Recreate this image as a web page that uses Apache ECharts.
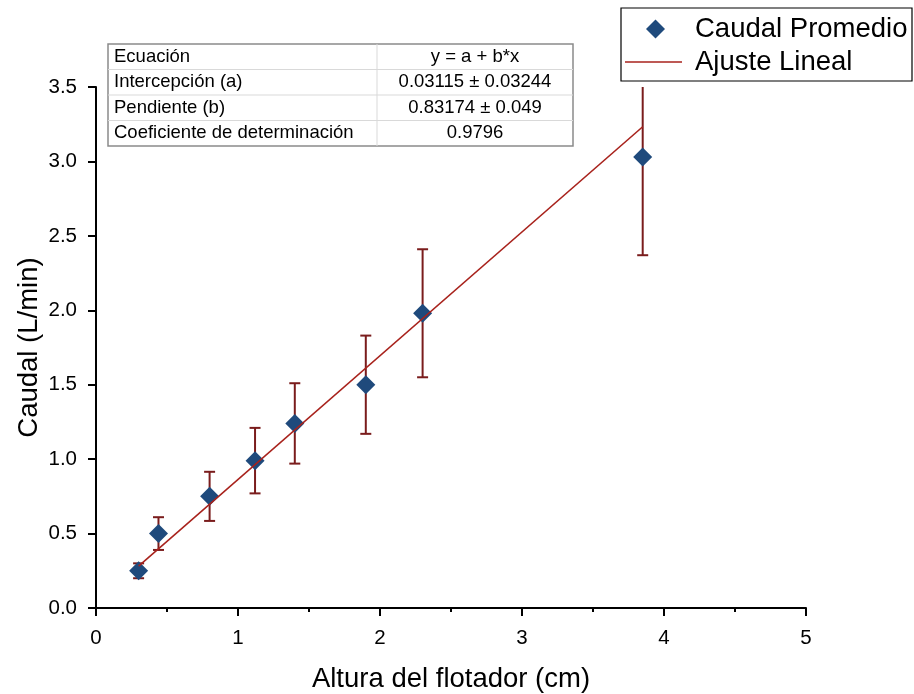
<!DOCTYPE html>
<html>
<head>
<meta charset="utf-8">
<script src="https://cdn.jsdelivr.net/npm/echarts@6/dist/echarts.min.js"></script>
<style>
  html, body { margin: 0; padding: 0; background: #fff; }
  #chart { width: 914px; height: 694px; }
</style>
</head>
<body>
<div id="chart"></div>
<script>
// datos
const alturas = [0.30, 0.44, 0.80, 1.12, 1.40, 1.90, 2.30, 3.85]
const caudales = [0.25, 0.50, 0.75, 0.99, 1.24, 1.50, 1.98, 3.03]
const errores = [0.05, 0.11, 0.165, 0.22, 0.27, 0.33, 0.43, 0.66]

// ajuste lineal (extremos de la recta)
const ajusteX = [0.30, 3.85]
const ajusteY = [0.281, 3.233]

// tabla de resultados
const tablaNombres = ['Ecuación', 'Intercepción (a)', 'Pendiente (b)', 'Coeficiente de determinación']
const tablaValores = ['y = a + b*x', '0.03115 ± 0.03244', '0.83174 ± 0.049', '0.9796']

const FONT = "'Liberation Sans', Arial, sans-serif"
const AZUL = '#1F4A7C'
const ROJO = '#A8221C'
const ROJO_OSC = '#7A1C1C'

const chart = echarts.init(document.getElementById('chart'))

// tabla dibujada con graphic
const tx = 108, ty = 44, tw = 465, rowH = 25.5, colX = 377
const tabla = [{
    type: 'rect',
    shape: { x: tx, y: ty, width: tw, height: rowH * 4 },
    style: { fill: '#fff', stroke: '#8a8a8a', lineWidth: 1.5 },
    z: 10,
}]
for (let i = 1; i < 4; i++) {
    tabla.push({
        type: 'line',
        shape: { x1: tx, y1: ty + rowH * i, x2: tx + tw, y2: ty + rowH * i },
        style: { stroke: '#d9d9d9', lineWidth: 1 },
        z: 11,
    })
}
tabla.push({
    type: 'line',
    shape: { x1: colX, y1: ty, x2: colX, y2: ty + rowH * 4 },
    style: { stroke: '#d9d9d9', lineWidth: 1 },
    z: 11,
})
tablaNombres.forEach((t, i) => {
    tabla.push({
        type: 'text', z: 12,
        style: { text: t, x: tx + 6, y: ty + rowH * i + rowH / 2, verticalAlign: 'middle',
                 font: '18.5px ' + FONT, fill: '#000' },
    })
    tabla.push({
        type: 'text', z: 12,
        style: { text: tablaValores[i], x: (colX + tx + tw) / 2, y: ty + rowH * i + rowH / 2,
                 align: 'center', verticalAlign: 'middle', font: '18.5px ' + FONT, fill: '#000' },
    })
})

const option = {
    backgroundColor: '#fff',
    animation: false,
    grid: { left: 96, right: 108, top: 87, bottom: 86, outerBoundsMode: 'none', containLabel: false },
    legend: [
        {
            data: [{ name: 'Caudal Promedio', icon: 'diamond' }],
            left: 646, top: 14, padding: 0,
            itemWidth: 19, itemHeight: 19,
            itemStyle: { opacity: 1 },
            textStyle: { fontSize: 27.5, fontFamily: FONT, color: '#000', lineHeight: 30, padding: [0, 0, 0, 25] },
        },
        {
            data: [{ name: 'Ajuste Lineal', icon: 'rect' }],
            left: 625, top: 47, padding: 0,
            itemWidth: 57, itemHeight: 1.6,
            textStyle: { fontSize: 27.5, fontFamily: FONT, color: '#000', lineHeight: 30, padding: [0, 0, 0, 8] },
        },
    ],
    graphic: [
        {
            type: 'rect',
            shape: { x: 621, y: 8, width: 291, height: 73 },
            style: { fill: 'none', stroke: '#000', lineWidth: 1.2 },
            z: 5,
        },
        ...tabla,
    ],
    xAxis: {
        type: 'value',
        min: 0, max: 5, interval: 1,
        name: 'Altura del flotador (cm)',
        nameLocation: 'middle', nameGap: 57,
        nameMoveOverlap: false,
        nameTextStyle: { fontSize: 27.5, fontFamily: FONT, color: '#000' },
        axisLine: { onZero: false, lineStyle: { color: '#000', width: 2 } },
        axisTick: { inside: false, length: 8, lineStyle: { color: '#000', width: 2 } },
        minorTick: { show: true, splitNumber: 2, length: 4, lineStyle: { color: '#000', width: 2 } },
        axisLabel: { fontSize: 20.5, fontFamily: FONT, color: '#000', margin: 20 },
        splitLine: { show: false },
    },
    yAxis: {
        type: 'value',
        min: 0, max: 3.5, interval: 0.5,
        name: 'Caudal (L/min)',
        nameLocation: 'middle', nameGap: 53,
        nameMoveOverlap: false,
        nameTextStyle: { fontSize: 27.5, fontFamily: FONT, color: '#000' },
        axisLine: { show: true, onZero: false, lineStyle: { color: '#000', width: 2 } },
        axisTick: { show: true, inside: false, length: 8, lineStyle: { color: '#000', width: 2 } },
        axisLabel: { fontSize: 20.5, fontFamily: FONT, color: '#000', margin: 19,
                     formatter: v => v.toFixed(1) },
        splitLine: { show: false },
    },
    series: [
        {
            name: 'Barras de error',
            type: 'custom',
            clip: true,
            z: 2,
            data: alturas.map((x, i) => [x, caudales[i], errores[i]]),
            renderItem: (params, api) => {
                const x = api.value(0), y = api.value(1), e = api.value(2)
                const lo = api.coord([x, y - e])
                const hi = api.coord([x, y + e])
                const c = 5.5
                const st = { stroke: ROJO_OSC, lineWidth: 2 }
                return {
                    type: 'group',
                    children: [
                        { type: 'line', shape: { x1: lo[0], y1: lo[1], x2: hi[0], y2: hi[1] }, style: st },
                        { type: 'line', shape: { x1: lo[0] - c, y1: lo[1], x2: lo[0] + c, y2: lo[1] }, style: st },
                        { type: 'line', shape: { x1: hi[0] - c, y1: hi[1], x2: hi[0] + c, y2: hi[1] }, style: st },
                    ],
                }
            },
        },
        {
            name: 'Caudal Promedio',
            type: 'scatter',
            symbol: 'diamond',
            symbolSize: 19,
            z: 3,
            itemStyle: { color: AZUL, opacity: 1 },
            data: alturas.map((x, i) => [x, caudales[i]]),
        },
        {
            name: 'Ajuste Lineal',
            type: 'line',
            symbol: 'none',
            z: 4,
            lineStyle: { color: ROJO, width: 1.6 },
            itemStyle: { color: ROJO },
            data: ajusteX.map((x, i) => [x, ajusteY[i]]),
        },
    ],
}

chart.setOption(option)
</script>
</body>
</html>
